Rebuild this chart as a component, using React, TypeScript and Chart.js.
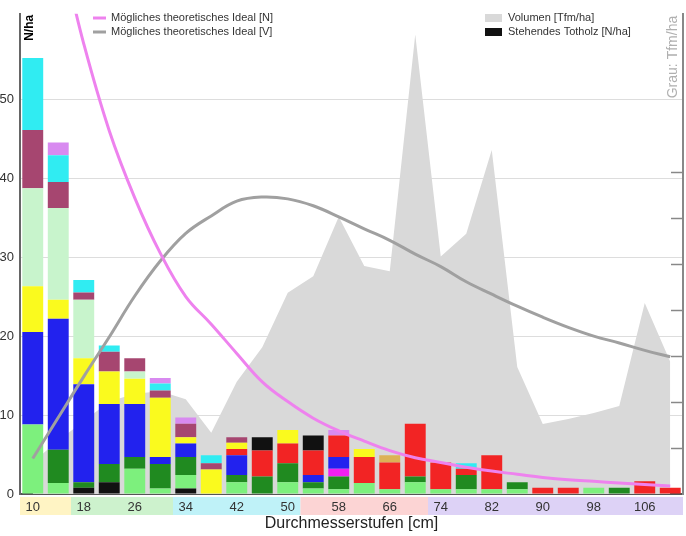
import React, { useEffect, useRef } from 'react';
import { Chart, registerables } from 'chart.js';

Chart.register(...registerables);

const categories = ['10','14','18','22','26','30','34','38','42','46','50','54','58','62','66','70','74','78','82','86','90','94','98','102','106','110'];

// stacked bars, N/ha (bottom to top)
const totholzUnten = [0,0,0.8,1.5,0,0,0.7,0,0,0,0,0,0,0,0,0,0,0,0,0,0,0,0,0,0,0];
const hellgruen    = [8.8,1.4,0,0,3.2,0.7,1.7,0,1.5,0,1.5,0.7,0.6,1.4,0.6,1.5,0.6,0.6,0.6,0.6,0,0,0.8,0,0,0];
const dunkelgruen  = [0,4.2,0.7,2.3,1.5,3.1,2.3,0,0.9,2.2,2.4,0.8,1.6,0,0,0.7,0,1.8,0,0.9,0,0,0,0.8,0,0];
const magenta      = [0,0,0,0,0,0,0,0,0,0,0,0,1.0,0,0,0,0,0,0,0,0,0,0,0,0,0];
const blau         = [11.7,16.6,12.4,7.6,6.7,0.9,1.7,0,2.5,0,0,0.9,1.5,0,0,0,0,0,0,0,0,0,0,0,0,0];
const rot          = [0,0,0,0,0,0,0,0,0.8,3.3,2.5,3.1,2.7,3.3,3.4,6.7,3.4,0.8,4.3,0,0.8,0.8,0,0,1.6,0.8];
const gelb         = [5.8,2.4,3.3,4.1,3.2,7.5,0.8,3.1,0.8,0,1.7,0,0,1.0,0,0,0,0,0,0,0,0,0,0,0,0];
const ocker        = [0,0,0,0,0,0,0,0,0,0,0,0,0,0,0.9,0,0,0,0,0,0,0,0,0,0,0];
const mint         = [12.4,11.6,7.4,0,0.9,0,0,0,0,0,0,0,0,0,0,0,0,0,0,0,0,0,0,0,0,0];
const weinrot      = [7.4,3.3,0.9,2.5,1.7,0.9,1.7,0.8,0.7,0,0,0,0,0,0,0,0,0,0,0,0,0,0,0,0,0];
const tuerkis      = [9.1,3.4,1.6,0.8,0,0.9,0,1.0,0,0,0,0,0,0,0,0,0,0.7,0,0,0,0,0,0,0,0];
const lila         = [0,1.6,0,0,0,0.7,0.8,0,0,0,0,0,0.7,0,0,0,0,0,0,0,0,0,0,0,0,0];
const totholzOben  = [0,0,0,0,0,0,0,0,0,1.7,0,1.9,0,0,0,0,0,0,0,0,0,0,0,0,0,0];

// Volumen (Tfm/ha, right axis)
const volumen = [6.9,11.6,15.8,20.1,21.8,22.3,20.6,13.3,24.4,31.9,43.7,47.3,60.2,49.5,48.4,99.8,51.6,56.5,74.7,27.6,15.2,16.3,17.6,19.1,41.5,28.7];
// Ideal lines
const idealN = [80,70,57,46,37.5,30.5,25,21.5,17.8,14.2,11.7,9.6,8,6.7,5.5,4.6,4.0,3.4,2.9,2.5,2.1,1.8,1.6,1.4,1.2,1.0];
const idealV = [7.7,16.6,25.5,34.1,43.0,50.6,56.6,60.4,63.6,64.5,64.1,62.6,60.2,57.6,55.1,52.1,49.4,46.1,43.4,40.8,38.4,36.2,34.3,32.8,31.2,29.8];

const yTicks = [0,10,20,30,40,50];
const y1Ticks = [10,20,30,40,50,60,70];

// x label bands (category index ranges)
const bandFrom = [0,2,6,11,16];
const bandTo = [1,5,10,15,25];
const bandColors = ['#fff4c4','#cdf2cd','#bff2f8','#fcd4d4','#ddd2f6'];

const FONT = "'Liberation Sans', Arial, sans-serif";

const decorPlugin = {
  id: 'decor',
  beforeDraw(chart: any) {
    const { ctx, chartArea } = chart;
    const xs = chart.scales.x;
    const step = (xs.right - xs.left) / categories.length;
    ctx.save();
    for (let i = 0; i < bandFrom.length; i++) {
      const x0 = xs.getPixelForValue(bandFrom[i]) - step / 2;
      const x1 = xs.getPixelForValue(bandTo[i]) + step / 2;
      ctx.fillStyle = bandColors[i];
      ctx.fillRect(x0, chartArea.bottom + 3, x1 - x0, 18);
    }
    ctx.restore();
  },
  afterDraw(chart: any) {
    const { ctx, chartArea } = chart;
    const y1 = chart.scales.y1;
    ctx.save();
    // inward ticks of the right axis
    ctx.strokeStyle = '#888';
    ctx.lineWidth = 1.5;
    for (const v of y1Ticks) {
      const py = Math.round(y1.getPixelForValue(v)) + 0.5;
      ctx.beginPath();
      ctx.moveTo(chartArea.right - 12, py);
      ctx.lineTo(chartArea.right, py);
      ctx.stroke();
    }
    // N/ha
    ctx.fillStyle = '#000';
    ctx.font = `bold 12px ${FONT}`;
    ctx.translate(chartArea.left + 10, chartArea.top + 1);
    ctx.rotate(-Math.PI / 2);
    ctx.textAlign = 'right';
    ctx.textBaseline = 'middle';
    ctx.fillText('N/ha', 0, 0);
    ctx.restore();
    ctx.save();
    ctx.fillStyle = '#b0b0b0';
    ctx.font = `14px ${FONT}`;
    ctx.translate(chartArea.right - 10, chartArea.top + 2);
    ctx.rotate(-Math.PI / 2);
    ctx.textAlign = 'right';
    ctx.textBaseline = 'middle';
    ctx.fillText('Grau: Tfm/ha', 0, 0);
    ctx.restore();

    // legend
    ctx.save();
    ctx.font = `11px ${FONT}`;
    ctx.textBaseline = 'middle';
    ctx.textAlign = 'left';
    const ds = chart.data.datasets;
    const lines = ds.filter((d: any) => d.legendGroup === 'lines');
    const boxes = ds.filter((d: any) => d.legendGroup === 'boxes');
    lines.forEach((d: any, i: number) => {
      const y = 18 + i * 14;
      ctx.strokeStyle = d.borderColor;
      ctx.lineWidth = 3;
      ctx.beginPath();
      ctx.moveTo(93, y);
      ctx.lineTo(106, y);
      ctx.stroke();
      ctx.fillStyle = '#333';
      ctx.fillText(d.label, 111, y);
    });
    boxes.forEach((d: any, i: number) => {
      const y = 18 + i * 14;
      ctx.fillStyle = d.backgroundColor;
      ctx.fillRect(485, y - 4, 17, 8);
      ctx.fillStyle = '#333';
      ctx.fillText(d.label, 508, y);
    });
    ctx.restore();
  },
};

export default function App() {
  const ref = useRef<HTMLCanvasElement | null>(null);
  useEffect(() => {
    if (!ref.current) return;
    const bar = (label: string, data: number[], color: string, extra: any = {}) => ({
      type: 'bar' as const,
      label,
      data,
      backgroundColor: color,
      borderWidth: 0,
      yAxisID: 'y',
      stack: 'arten',
      order: 5,
      barPercentage: 0.82,
      categoryPercentage: 1.0,
      ...extra,
    });
    const chart = new Chart(ref.current, {
      data: {
        labels: categories,
        datasets: [
          {
            type: 'line',
            label: 'Mögliches theoretisches Ideal [N]',
            data: idealN,
            borderColor: '#ee82ee',
            borderWidth: 3,
            pointRadius: 0,
            tension: 0.4,
            yAxisID: 'y',
            stack: 'idealN',
            order: 0,
            fill: false,
            legendGroup: 'lines',
          } as any,
          {
            type: 'line',
            label: 'Mögliches theoretisches Ideal [V]',
            data: idealV,
            borderColor: '#a0a0a0',
            borderWidth: 3,
            pointRadius: 0,
            tension: 0.4,
            yAxisID: 'y1',
            order: 1,
            fill: false,
            legendGroup: 'lines',
          } as any,
          {
            type: 'line',
            label: 'Volumen [Tfm/ha]',
            data: volumen,
            borderWidth: 0,
            borderColor: 'rgba(0,0,0,0)',
            backgroundColor: '#d9d9d9',
            pointRadius: 0,
            tension: 0,
            fill: 'origin',
            yAxisID: 'y1',
            order: 10,
            legendGroup: 'boxes',
          } as any,
          bar('Stehendes Totholz [N/ha]', totholzUnten, '#111111', { legendGroup: 'boxes' }),
          bar('hellgrün', hellgruen, '#7df07d'),
          bar('dunkelgrün', dunkelgruen, '#208a20'),
          bar('magenta', magenta, '#f020f0'),
          bar('blau', blau, '#2222ee'),
          bar('rot', rot, '#f22424'),
          bar('gelb', gelb, '#fafa1e'),
          bar('ocker', ocker, '#dcb256'),
          bar('mint', mint, '#c8f4cc'),
          bar('weinrot', weinrot, '#a64670'),
          bar('türkis', tuerkis, '#30ecf2'),
          bar('lila', lila, '#d88af0'),
          bar('Totholz oben', totholzOben, '#111111'),
        ],
      } as any,
      options: {
        responsive: false,
        animation: false,
        events: [],
        layout: { padding: { top: 7, left: 0, right: 0, bottom: 0 } },
        plugins: {
          legend: { display: false },
          tooltip: { enabled: false },
        },
        scales: {
          x: {
            type: 'category',
            stacked: true,
            grid: { display: false, drawTicks: false },
            border: { display: true, color: '#555', width: 2 },
            ticks: {
              autoSkip: false,
              maxRotation: 0,
              padding: 6,
              color: '#333',
              font: { family: FONT, size: 13 },
              callback: (_v: any, i: number) => (i % 2 === 0 ? categories[i] : ''),
            },
            title: {
              display: true,
              text: 'Durchmesserstufen [cm]',
              color: '#222',
              font: { family: FONT, size: 16 },
              padding: { top: 0, bottom: 3 },
            },
            afterFit: (s: any) => { s.height = 42; },
          },
          y: {
            type: 'linear',
            position: 'left',
            stacked: true,
            min: 0,
            max: 60.8,
            afterBuildTicks: (s: any) => { s.ticks = yTicks.map((v) => ({ value: v })); },
            grid: { color: '#dddddd', lineWidth: 1, drawTicks: false },
            border: { display: true, color: '#666', width: 2 },
            ticks: {
              padding: 6,
              color: '#333',
              font: { family: FONT, size: 13 },
            },
            afterFit: (s: any) => { s.width = 20; },
          },
          y1: {
            type: 'linear',
            position: 'right',
            min: 0,
            max: 104.3,
            grid: { display: false, drawOnChartArea: false, drawTicks: false },
            border: { display: true, color: '#888', width: 2 },
            ticks: { display: false },
            afterFit: (s: any) => { s.width = 3; },
          },
        },
      } as any,
      plugins: [decorPlugin],
    });
    return () => chart.destroy();
  }, []);

  return (
    <div style={{ position: 'absolute', left: 0, top: 0, width: 686, height: 536, background: '#fff' }}>
      <canvas ref={ref} width={686} height={536} style={{ display: 'block' }} />
    </div>
  );
}
